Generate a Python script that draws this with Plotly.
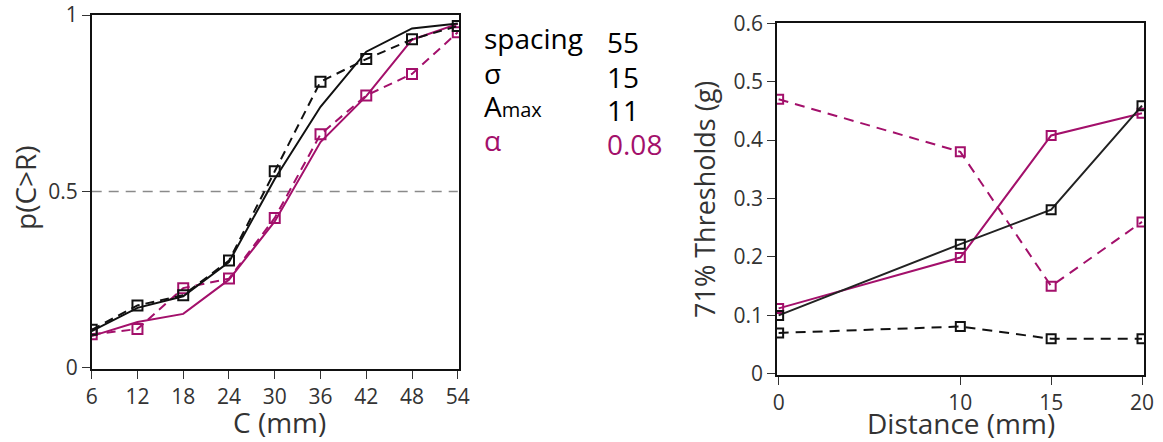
import plotly.graph_objects as go

# ---- data ----
c_mm = [6, 12, 18, 24, 30, 36, 42, 48, 54]
black_model = [0.104, 0.170, 0.203, 0.300, 0.535, 0.740, 0.896, 0.962, 0.976]
black_data = [0.108, 0.177, 0.206, 0.304, 0.557, 0.811, 0.875, 0.931, 0.969]
mag_model = [0.090, 0.130, 0.153, 0.250, 0.415, 0.640, 0.770, 0.930, 0.975]
mag_data = [0.095, 0.110, 0.226, 0.253, 0.425, 0.662, 0.772, 0.833, 0.951]

distance = [0, 10, 15, 20]
thr_black_solid = [0.100, 0.222, 0.281, 0.459]
thr_black_dash = [0.070, 0.081, 0.060, 0.060]
thr_mag_solid = [0.112, 0.199, 0.408, 0.446]
thr_mag_dash = [0.470, 0.380, 0.150, 0.260]

param_names = ["spacing", "σ", "A<span style='font-size:20px'>max</span>", "α"]
param_values = ["55", "15", "11", "0.08"]
param_colors = ["black", "black", "black", "#A3106B"]

left_xticks = [6, 12, 18, 24, 30, 36, 42, 48, 54]
left_yticks = [0, 0.5, 1]
left_yticklabels = ["0", "0.5", "1"]
right_xticks = [0, 10, 15, 20]
right_yticks = [0, 0.1, 0.2, 0.3, 0.4, 0.5, 0.6]
right_yticklabels = ["0", "0.1", "0.2", "0.3", "0.4", "0.5", "0.6"]

BLACK = "#111111"
MAG = "#A3106B"
FONT = "Open Sans"
W, H = 1163, 442

fig = go.Figure()

# reference line at 0.5
fig.add_trace(go.Scatter(x=[c_mm[0], c_mm[-1]], y=[0.5, 0.5], mode="lines",
                         line=dict(color="#8a8a8a", width=1.5, dash="10px,7px"),
                         xaxis="x", yaxis="y", showlegend=False, hoverinfo="skip"))

sq = dict(symbol="square-open", size=10, line=dict(width=2))

fig.add_trace(go.Scatter(x=c_mm, y=mag_model, mode="lines",
                         line=dict(color=MAG, width=2), xaxis="x", yaxis="y", showlegend=False))
fig.add_trace(go.Scatter(x=c_mm, y=mag_data, mode="lines+markers",
                         line=dict(color=MAG, width=2, dash="9px,6px"),
                         marker=dict(color=MAG, **sq), xaxis="x", yaxis="y", showlegend=False))
fig.add_trace(go.Scatter(x=c_mm, y=black_model, mode="lines",
                         line=dict(color=BLACK, width=2), xaxis="x", yaxis="y", showlegend=False))
fig.add_trace(go.Scatter(x=c_mm, y=black_data, mode="lines+markers",
                         line=dict(color=BLACK, width=2, dash="9px,6px"),
                         marker=dict(color=BLACK, **sq), xaxis="x", yaxis="y", showlegend=False))

sq2 = dict(symbol="square-open", size=9, line=dict(width=2))
fig.add_trace(go.Scatter(x=distance, y=thr_mag_dash, mode="lines+markers",
                         line=dict(color=MAG, width=2, dash="10px,7px"),
                         marker=dict(color=MAG, **sq2), xaxis="x2", yaxis="y2", showlegend=False))
fig.add_trace(go.Scatter(x=distance, y=thr_black_dash, mode="lines+markers",
                         line=dict(color=BLACK, width=2, dash="10px,7px"),
                         marker=dict(color=BLACK, **sq2), xaxis="x2", yaxis="y2", showlegend=False))
fig.add_trace(go.Scatter(x=distance, y=thr_mag_solid, mode="lines+markers",
                         line=dict(color=MAG, width=2),
                         marker=dict(color=MAG, **sq2), xaxis="x2", yaxis="y2", showlegend=False))
fig.add_trace(go.Scatter(x=distance, y=thr_black_solid, mode="lines+markers",
                         line=dict(color="#222222", width=2),
                         marker=dict(color=BLACK, **sq2), xaxis="x2", yaxis="y2", showlegend=False))

axis_common = dict(showgrid=False, zeroline=False, showline=True, linecolor="#111111",
                   linewidth=1.5, mirror=True, ticks="outside", ticklen=8, tickwidth=1.2,
                   tickcolor="#333333", automargin=False,
                   tickfont=dict(family=FONT, size=21, color="#333333"))

fig.update_layout(
    width=W, height=H,
    margin=dict(l=0, r=0, t=0, b=0, autoexpand=False),
    paper_bgcolor="white", plot_bgcolor="white",
    font=dict(family=FONT, color="#222222"),
    xaxis=dict(domain=[91.7 / W, 459.3 / W], range=[6, 54.2], tickvals=left_xticks,
               anchor="y", **axis_common),
    yaxis=dict(domain=[1 - 369.3 / H, 1 - 15 / H], range=[-0.004, 1.0], tickvals=left_yticks,
               ticktext=left_yticklabels, anchor="x", **axis_common),
    xaxis2=dict(domain=[777 / W, 1144 / W], range=[-0.09, 20.11], tickvals=right_xticks,
                anchor="y2", **axis_common),
    yaxis2=dict(domain=[1 - 375 / H, 1 - 23.3 / H], range=[-0.002, 0.6], tickvals=right_yticks,
                ticktext=right_yticklabels, anchor="x2", **axis_common),
)

ann = []
# axis titles
ann.append(dict(text="C (mm)", x=279 / W, y=1 - 422 / H, xref="paper", yref="paper",
                showarrow=False, font=dict(family=FONT, size=28, color="#333333"),
                xanchor="center", yanchor="middle"))
ann.append(dict(text="p(C>R)", x=25 / W, y=1 - 188 / H, xref="paper", yref="paper",
                showarrow=False, textangle=-90, font=dict(family=FONT, size=28, color="#333333"),
                xanchor="center", yanchor="middle"))
ann.append(dict(text="Distance (mm)", x=961 / W, y=1 - 423 / H, xref="paper", yref="paper",
                showarrow=False, font=dict(family=FONT, size=28, color="#333333"),
                xanchor="center", yanchor="middle"))
ann.append(dict(text="71% Thresholds (g)", x=705 / W, y=1 - 200 / H, xref="paper", yref="paper",
                showarrow=False, textangle=-90, font=dict(family=FONT, size=27, color="#333333"),
                xanchor="center", yanchor="middle"))

row_y = [38, 73, 106, 140]
for name, val, col, yy in zip(param_names, param_values, param_colors, row_y):
    ann.append(dict(text=name, x=482 / W, y=1 - yy / H, xref="paper", yref="paper",
                    showarrow=False, font=dict(family=FONT, size=28, color=col),
                    xanchor="left", yanchor="middle"))
    ann.append(dict(text=val, x=605 / W, y=1 - (yy + 4) / H, xref="paper", yref="paper",
                    showarrow=False, font=dict(family=FONT, size=28, color=col),
                    xanchor="left", yanchor="middle"))

fig.update_layout(annotations=ann)

fig.write_html("out.html", config={"displayModeBar": False},
               post_script="document.body.style.margin='0';document.body.style.overflow='hidden';")
